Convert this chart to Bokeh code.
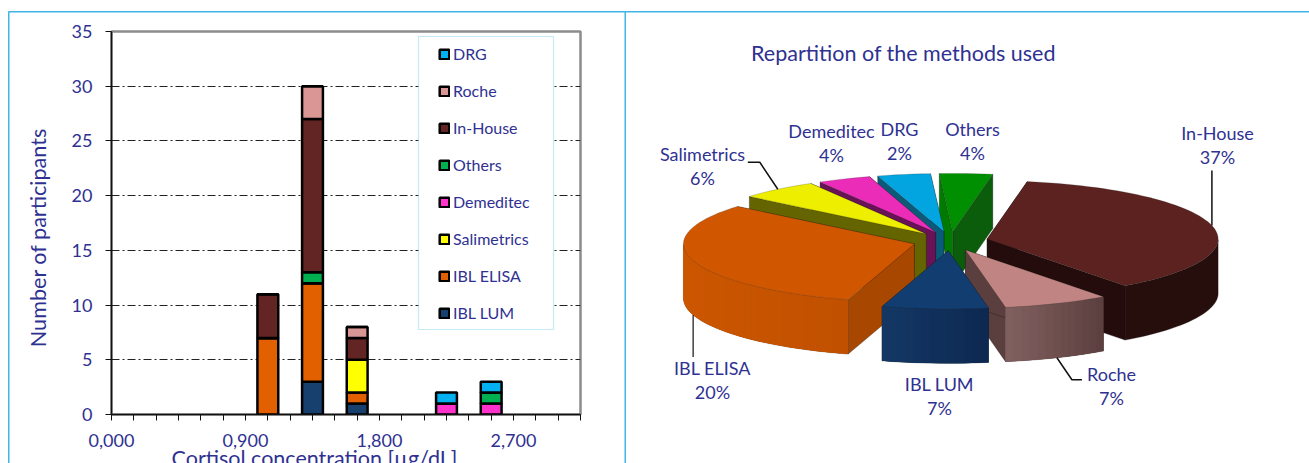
import math
from bokeh.plotting import figure
from bokeh.layouts import row
from bokeh.models import (Range1d, FixedTicker, BoxAnnotation, Legend, LegendItem, ColumnDataSource)
from bokeh.embed import file_html
from bokeh.resources import INLINE

# ---- data
bins = [1.05, 1.35, 1.65, 2.25, 2.55]
ibl_lum = [0, 3, 1, 0, 0]
ibl_elisa = [7, 9, 1, 0, 0]
salimetrics = [0, 0, 3, 0, 0]
demeditec = [0, 0, 0, 1, 1]
others = [0, 1, 0, 0, 1]
in_house = [4, 14, 2, 0, 0]
roche = [0, 3, 1, 0, 0]
drg = [0, 0, 0, 1, 1]
series_names = ["IBL LUM", "IBL ELISA", "Salimetrics", "Demeditec", "Others", "In-House", "Roche", "DRG"]
series_values = [ibl_lum, ibl_elisa, salimetrics, demeditec, others, in_house, roche, drg]
bar_colors = ["#17406e", "#e36000", "#ffff00", "#ff33cc", "#00b050", "#632523", "#d99694", "#00b0f0"]
x_ticks = [i * 0.15 for i in range(22)]
x_labels = {"0": "0,000", "0.9": "0,900", "1.8": "1,800", "2.7": "2,700"}
y_ticks = [0, 5, 10, 15, 20, 25, 30, 35]

pie_order = ["In-House", "Roche", "IBL LUM", "IBL ELISA", "Salimetrics", "Demeditec", "DRG", "Others"]
pie_percent = ["37%", "7%", "7%", "20%", "6%", "4%", "2%", "4%"]
pie_top = ["#5c2220", "#c08582", "#123d70", "#d15600", "#eeee00", "#ea2cb8", "#02a5e0", "#008f00"]
pie_wall_l = ["#260e0c", "#80605f", "#133764", "#cc5600", "#646400", "#6a1258", "#0b5a78", "#0b5d0b"]
pie_wall_r = ["#260e0c", "#5a3d3d", "#0d2850", "#c05000", "#646400", "#6a1258", "#0b5a78", "#0b5d0b"]
pie_face_l = ["#230c0b", "#5b3f3f", "#0d2850", "#a84800", "#646400", "#6a1258", "#0b5a78", "#0b5d0b"]
pie_face_r = ["#230c0b", "#5b3f3f", "#0d2850", "#a84800", "#646400", "#6a1258", "#0b5a78", "#007a00"]
pie_label_xy = [(1217, 132), (1111, 373), (939, 383), (712, 367), (702, 153), (831, 130), (899, 128), (972, 128)]

TXT = "#2f3192"
BLUE = "#41b6e6"
FONT = "Lato"

# ---- backdrop figure covering the whole page: panel rules, outer titles and the pie
q = figure(width=1309, height=463, x_range=Range1d(0, 1309), y_range=Range1d(463, 0),
           output_backend="svg", toolbar_location=None, min_border=0, x_axis_location=None, y_axis_location=None)
q.frame_align = False
q.grid.visible = False
q.outline_line_color = None
q.quad(left=[8, 7.5, 624], right=[1309, 9, 625.5], top=[10.5, 11, 11], bottom=[12, 463, 463],
       fill_color=BLUE, line_alpha=0)
q.text([37], [237], text=["Number of participants"], angle=math.pi / 2, text_font={"value": FONT},
       text_font_size="21.6px", text_color=TXT, text_align="center", text_baseline="middle")
q.text([314], [457], text=["Cortisol concentration [µg/dL]"], text_font={"value": FONT},
       text_font_size="21.5px", text_color=TXT, text_align="center", text_baseline="middle")

# ---- left chart
p = figure(width=625, height=463, x_range=Range1d(0, 3.15), y_range=Range1d(0, 35),
           output_backend="svg", toolbar_location=None, min_border_left=111, min_border_right=45,
           min_border_top=31, min_border_bottom=49,
           styles={"position": "absolute", "left": "0px", "top": "0px"})
p.frame_align = False
p.border_fill_color = None
p.background_fill_color = None
src = dict(x=bins)
for n, v in zip(series_names, series_values):
    src[n] = v
rs = p.vbar_stack(series_names, x="x", width=0.14, color=bar_colors, line_color="black",
                  line_width=2.5, source=ColumnDataSource(src))
p.xaxis.ticker = FixedTicker(ticks=x_ticks)
p.xaxis.major_label_overrides = {t: x_labels.get(f"{t:g}", "") for t in x_ticks}
p.yaxis.ticker = FixedTicker(ticks=y_ticks)
for ax in (p.xaxis[0], p.yaxis[0]):
    ax.major_label_text_font = FONT
    ax.major_label_text_font_size = "18px"
    ax.major_label_text_color = TXT
    ax.axis_line_color = "#111111"
    ax.axis_line_width = 1.5
    ax.major_tick_line_color = "#111111"
    ax.major_tick_out = 6
    ax.major_tick_in = 0
    ax.minor_tick_out = 0
    ax.minor_tick_in = 0
p.xaxis.major_label_standoff = 13
p.yaxis.major_label_standoff = 13
p.xgrid.visible = False
p.ygrid.grid_line_color = "#222222"
p.ygrid.grid_line_width = 1
p.ygrid.grid_line_dash = "8 3 2 3"
p.outline_line_color = "#8c8c8c"
p.outline_line_width = 2.5
p.add_layout(BoxAnnotation(left=418, right=553, top=36, bottom=329, left_units="canvas",
                           right_units="canvas", top_units="canvas", bottom_units="canvas", fill_color="white",
                           fill_alpha=1, line_color=BLUE, line_width=1.2))
legend = Legend(items=[LegendItem(label=n, renderers=[r]) for n, r in reversed(list(zip(series_names, rs)))],
                location=(327, 92), padding=0, margin=0, spacing=18, glyph_width=12, glyph_height=12,
                label_height=18, label_standoff=3, label_text_font=FONT, label_text_font_size="16px",
                label_text_color=TXT, background_fill_alpha=0, border_line_alpha=0)
p.add_layout(legend)

# ---- exploded, tilted pie; slice angles come from the series totals
totals = {n: sum(v) for n, v in zip(series_names, series_values)}
grand = sum(totals.values())
CX, CY, RX, KY, DEPTH, EXPL = 950.0, 240.7, 231.0, 58.3, 54.3, 0.163
start_deg = 80.0


def mix(a, b, t):
    ca = [int(a[i:i + 2], 16) for i in (1, 3, 5)]
    cb = [int(b[i:i + 2], 16) for i in (1, 3, 5)]
    return "#%02x%02x%02x" % tuple(round(u + (w - u) * t) for u, w in zip(ca, cb))


slices = []
ang = start_deg
for i, n in enumerate(pie_order):
    sweep = 360.0 * totals[n] / grand
    a0, a1 = ang, ang - sweep
    mid = math.radians((a0 + a1) / 2)
    ax_ = CX + RX * EXPL * math.cos(mid)
    ay_ = CY - KY * EXPL * math.sin(mid)
    slices.append(dict(i=i, a0=a0, a1=a1, ax=ax_, ay=ay_, mid=mid))
    ang = a1


def rim(s, deg):
    t = math.radians(deg)
    return s["ax"] + RX * math.cos(t), s["ay"] - KY * math.sin(t)


# painter's order: back slices first
for idx in [7, 6, 5, 4, 0, 3, 1, 2]:
    s = slices[idx]
    i = s["i"]
    p0 = rim(s, s["a0"])
    p1 = rim(s, s["a1"])
    # cut faces
    q.patch([s["ax"], p1[0], p1[0], s["ax"]], [s["ay"], p1[1], p1[1] + DEPTH, s["ay"] + DEPTH],
            fill_color=pie_face_l[i], line_color="#111111", line_width=0.5, line_alpha=0.6)
    q.patch([s["ax"], p0[0], p0[0], s["ax"]], [s["ay"], p0[1], p0[1] + DEPTH, s["ay"] + DEPTH],
            fill_color=pie_face_r[i], line_color="#111111", line_width=0.5, line_alpha=0.6)
    # outer wall: a base in one colour, then overlapping shaded bands
    nstep = max(4, int((s["a0"] - s["a1"]) / 2))
    angs = [s["a0"] - (s["a0"] - s["a1"]) * k / nstep for k in range(nstep + 1)]
    pts = [rim(s, d) for d in angs]
    xs_all = [pt[0] for pt in pts]
    ys_all = [pt[1] for pt in pts]
    lo, hi = min(xs_all), max(xs_all)
    front = [k for k in range(nstep + 1) if math.sin(math.radians(angs[k])) <= 0.02]
    if len(front) > 1:
        bx = [xs_all[k] for k in front]
        by = [ys_all[k] for k in front]
        q.patch(bx + bx[::-1], by + [v + DEPTH for v in by[::-1]], fill_color=mix(pie_wall_l[i], pie_wall_r[i], 0.5),
                line_color="#111111", line_width=0.5, line_alpha=0.6)
        if pie_wall_l[i] != pie_wall_r[i]:
            for j, a in enumerate(front[:-1]):
                b = front[min(j + 2, len(front) - 1)]
                c = mix(pie_wall_l[i], pie_wall_r[i], ((xs_all[a] + xs_all[b]) / 2 - lo) / (hi - lo))
                q.patch([xs_all[a], xs_all[b], xs_all[b], xs_all[a]],
                        [ys_all[a], ys_all[b], ys_all[b] + DEPTH, ys_all[a] + DEPTH],
                        fill_color=c, line_color=None)
    # top
    q.patch([s["ax"]] + xs_all, [s["ay"]] + ys_all, fill_color=pie_top[i],
            line_color="#222222", line_width=0.4, line_alpha=0.5)


# leader lines anchored on the slice rims
def mid_rim(i):
    return rim(slices[i], math.degrees(slices[i]["mid"]))


x, y = mid_rim(0)
q.line([x, x], [y, y - 55], line_color="#111111", line_width=1.5)
x, y = mid_rim(4)
q.line([x, x - 18, x - 30], [y, y - 27, y - 27], line_color="#111111", line_width=1.5)
x, y = mid_rim(1)
q.line([x, x + 15, x + 25], [y + DEPTH, y + DEPTH + 22, y + DEPTH + 22], line_color="#111111", line_width=1.5)
x, y = mid_rim(3)
q.line([x, x], [y + DEPTH, y + DEPTH + 42], line_color="#111111", line_width=1.2)

for n, pct, (lx, ly) in zip(pie_order, pie_percent, pie_label_xy):
    q.text([lx, lx], [ly, ly + 24], text=[n, pct], text_font={"value": FONT}, text_font_size="18px",
           text_color=TXT, text_align="center", text_baseline="middle")
q.text([903], [52], text=["Repartition of the methods used"], text_font={"value": FONT},
       text_font_size="21.5px", text_color=TXT, text_align="center", text_baseline="middle")

page = row(q, p, spacing=0)
open("out.html", "w").write(file_html(page, INLINE))
